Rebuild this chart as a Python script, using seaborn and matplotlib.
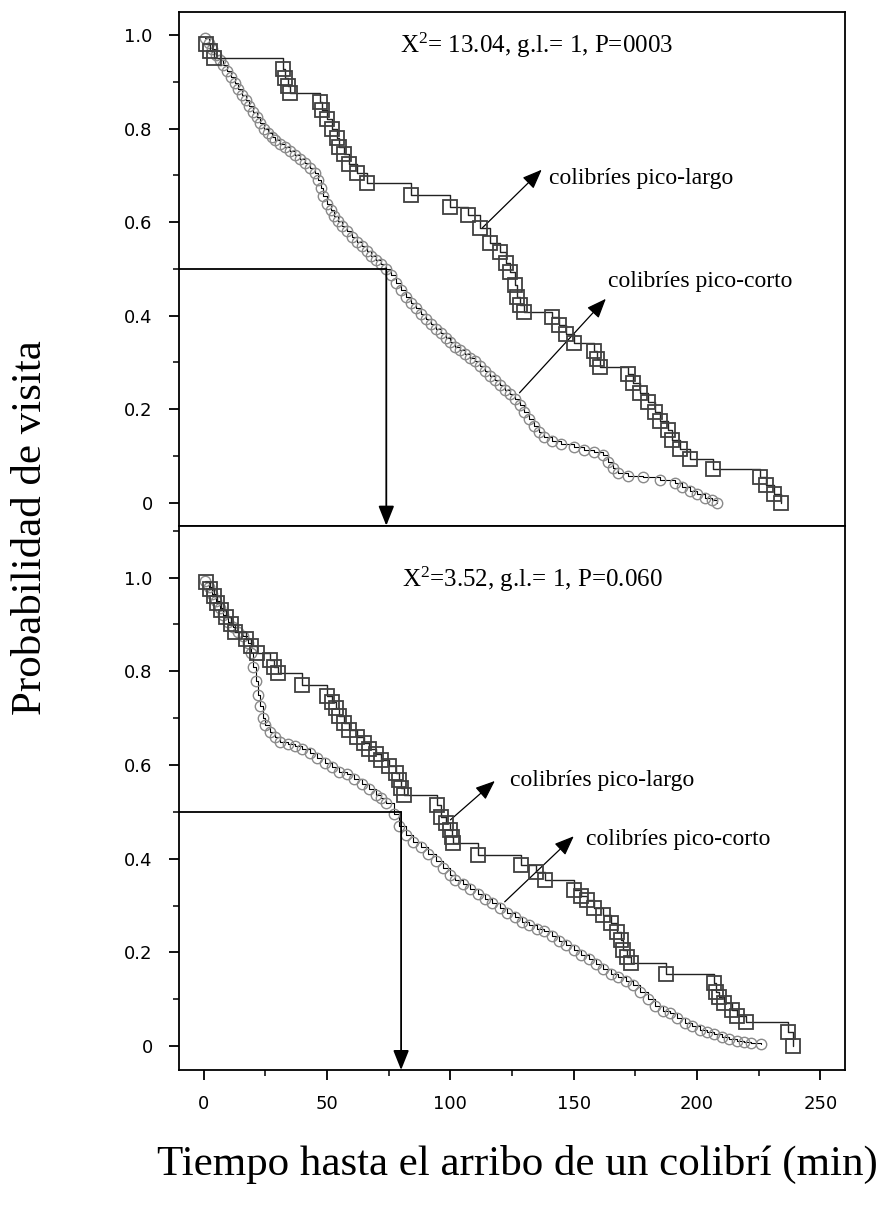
import matplotlib
matplotlib.use("Agg")
import matplotlib.pyplot as plt
import numpy as np
import pandas as pd
import seaborn as sns
from matplotlib.ticker import MultipleLocator, FuncFormatter

sns.set_theme(style="white")
plt.rcParams["font.family"] = ["DejaVu Sans"]
plt.rcParams["text.color"] = "black"
plt.rcParams["mathtext.fontset"] = "custom"
plt.rcParams["mathtext.rm"] = "Liberation Serif"
plt.rcParams["mathtext.default"] = "regular"

# ---------------- data (Kaplan-Meier estimates) ----------------
# Panel A (top)
a_long_t = [1, 2.5, 4, 32, 33, 34, 35, 47, 48, 50, 52, 54, 55, 57, 59, 62, 66, 84,
            100, 107, 112, 116, 120, 122.5, 124, 126, 127, 128, 130, 141, 144, 147, 150,
            158, 159.5, 160.5, 172, 174, 177, 180, 183, 185, 188, 190, 193, 197, 206.5,
            225.5, 228, 231, 234]
a_long_s = [0.98, 0.965, 0.95, 0.928, 0.907, 0.89, 0.876, 0.857, 0.84, 0.82, 0.80, 0.78,
            0.76, 0.745, 0.725, 0.705, 0.684, 0.658, 0.632, 0.615, 0.588, 0.556, 0.536,
            0.513, 0.494, 0.466, 0.44, 0.423, 0.408, 0.397, 0.38, 0.36, 0.342, 0.325,
            0.308, 0.29, 0.275, 0.255, 0.235, 0.215, 0.195, 0.175, 0.155, 0.135, 0.115,
            0.094, 0.073, 0.055, 0.037, 0.019, 0.0]
a_short_t = [0.5, 2, 3.5, 5, 6.5, 8, 9.5, 11, 12.5, 14, 15.5, 17, 18.5, 20, 21.5, 23, 24.5,
             26, 27.5, 29, 31, 33, 35, 37, 39, 41, 43, 45, 46.5, 47.5, 48.5, 50, 51.5, 53,
             54.5, 56, 58, 60, 62, 64, 66, 68, 70, 72, 74, 76, 78, 80, 82, 84, 86, 88, 90,
             92, 94, 96, 98, 100, 102, 104, 106, 108, 110, 112, 114, 116, 118, 120, 122,
             124, 126, 128, 130, 132, 134, 136, 138, 141, 145, 150, 154, 158, 162, 164,
             166, 168, 172, 178, 185, 191, 194, 197, 200, 203, 206, 208]
a_short_s = [0.993, 0.982, 0.97, 0.958, 0.947, 0.935, 0.922, 0.91, 0.897, 0.885, 0.872,
             0.86, 0.848, 0.836, 0.824, 0.812, 0.80, 0.79, 0.782, 0.776, 0.768, 0.76, 0.752,
             0.744, 0.735, 0.726, 0.716, 0.705, 0.69, 0.672, 0.655, 0.638, 0.625, 0.614,
             0.603, 0.592, 0.58, 0.568, 0.558, 0.548, 0.538, 0.528, 0.518, 0.51, 0.5, 0.486,
             0.47, 0.455, 0.44, 0.428, 0.416, 0.404, 0.393, 0.382, 0.372, 0.362, 0.352,
             0.343, 0.334, 0.326, 0.318, 0.31, 0.302, 0.292, 0.282, 0.272, 0.262, 0.252,
             0.242, 0.232, 0.222, 0.21, 0.195, 0.18, 0.165, 0.152, 0.14, 0.132, 0.125,
             0.119, 0.113, 0.109, 0.103, 0.088, 0.075, 0.064, 0.058, 0.054, 0.049, 0.043,
             0.034, 0.026, 0.018, 0.011, 0.005, 0.0]

# Panel B (bottom)
b_long_t = [1, 2.5, 4, 5.5, 7, 9, 11, 12.5, 17, 19, 21.5, 27, 28.5, 30, 40, 50, 52, 53.5,
            55, 57, 59, 62, 65, 67, 70, 72, 75, 78, 79, 80, 81, 94.5, 96, 98, 100, 100.5,
            101, 111, 128.5, 134.5, 138.5, 150, 153, 155.5, 158, 162, 165, 167.5, 169,
            170, 171.5, 173, 187.5, 207, 207.5, 209, 211, 214, 216, 220, 237, 239]
b_long_s = [0.99, 0.975, 0.96, 0.945, 0.93, 0.915, 0.90, 0.885, 0.87, 0.855, 0.84, 0.825,
            0.81, 0.797, 0.77, 0.747, 0.735, 0.722, 0.705, 0.69, 0.675, 0.66, 0.647,
            0.635, 0.624, 0.611, 0.597, 0.583, 0.567, 0.551, 0.536, 0.515, 0.49, 0.476,
            0.462, 0.447, 0.434, 0.408, 0.387, 0.371, 0.355, 0.333, 0.32, 0.312, 0.295,
            0.28, 0.263, 0.244, 0.226, 0.205, 0.19, 0.177, 0.154, 0.135, 0.115, 0.105,
            0.092, 0.077, 0.065, 0.051, 0.03, 0.0]
b_short_t = [0.5, 2, 3.5, 5, 6.5, 8, 10, 12, 14, 16, 18, 19, 20, 21, 22, 23, 24, 25, 27,
             29, 31, 34, 37, 40, 43, 46, 49, 52, 55, 58, 61, 64, 67, 70, 72, 74, 77, 79,
             82, 85, 88, 91, 94, 97, 100, 102, 105, 108, 111, 114, 117, 120, 123, 126,
             129, 132, 135, 138, 141, 144, 147, 150, 153, 156, 159, 162, 165, 168, 171,
             174, 177, 180, 183, 186, 189, 192, 195, 198, 201, 204, 207, 210, 213, 216,
             219, 222, 226]
b_short_s = [0.993, 0.98, 0.965, 0.95, 0.935, 0.92, 0.905, 0.895, 0.885, 0.875, 0.86, 0.84,
             0.81, 0.78, 0.75, 0.725, 0.70, 0.685, 0.67, 0.66, 0.65, 0.645, 0.64, 0.635,
             0.625, 0.615, 0.605, 0.595, 0.585, 0.58, 0.57, 0.56, 0.548, 0.537, 0.53, 0.52,
             0.495, 0.47, 0.45, 0.435, 0.425, 0.41, 0.395, 0.38, 0.365, 0.355, 0.345,
             0.335, 0.325, 0.315, 0.305, 0.295, 0.285, 0.275, 0.265, 0.258, 0.25, 0.245,
             0.235, 0.225, 0.215, 0.205, 0.195, 0.185, 0.175, 0.165, 0.155, 0.148, 0.14,
             0.13, 0.115, 0.10, 0.085, 0.075, 0.07, 0.06, 0.05, 0.042, 0.035, 0.03, 0.025,
             0.02, 0.015, 0.01, 0.008, 0.006, 0.004]

median_times = [74, 80]
stats_labels = ["X$^2$= 13.04, g.l.= 1, P=0003", "X$^2$=3.52, g.l.= 1, P=0.060"]
label_long = "colibríes pico-largo"
label_short = "colibríes pico-corto"
x_ticks = [0, 50, 100, 150, 200, 250]
y_ticks = [0, 0.2, 0.4, 0.6, 0.8, 1.0]

SERIF = ["Liberation Serif", "DejaVu Serif"]

fig = plt.figure(figsize=(8.91, 12.07), dpi=100)
ax_top = fig.add_axes([0.201, 0.5645, 0.7475, 0.4255])
ax_bot = fig.add_axes([0.201, 0.1135, 0.7475, 0.451])


def draw_panel(ax, ts, ss, tl, sl, ylim):
    dshort = pd.DataFrame({"t": ts, "s": ss})
    dlong = pd.DataFrame({"t": tl, "s": sl})
    sns.lineplot(data=dshort, x="t", y="s", ax=ax, estimator=None, sort=False,
                 drawstyle="steps-post", color="black", lw=0.8,
                 marker="o", markersize=7.5, markerfacecolor="none",
                 markeredgecolor="#8a8a8a", markeredgewidth=1.0, zorder=3)
    sns.lineplot(data=dlong, x="t", y="s", ax=ax, estimator=None, sort=False,
                 drawstyle="steps-post", color="#222222", lw=1.0,
                 marker="s", markersize=9.5, markerfacecolor="none",
                 markeredgecolor="#404040", markeredgewidth=1.3, zorder=4)
    ax.set_xlim(-10, 260)
    ax.set_ylim(*ylim)
    ax.set_xlabel("")
    ax.set_ylabel("")
    for sp in ax.spines.values():
        sp.set_visible(True)
        sp.set_color("black")
        sp.set_linewidth(1.3)
    ax.yaxis.set_major_locator(plt.FixedLocator(y_ticks))
    ax.yaxis.set_minor_locator(MultipleLocator(0.1))
    ax.yaxis.set_major_formatter(FuncFormatter(lambda v, p: "0" if abs(v) < 1e-9 else f"{v:.1f}"))
    ax.tick_params(axis="y", which="major", direction="out", length=7, width=1.3,
                   labelsize=13, pad=12, left=True, colors="black")
    ax.tick_params(axis="y", which="minor", direction="out", length=4, width=1.3, left=True)
    ax.grid(False)


draw_panel(ax_top, a_short_t, a_short_s, a_long_t, a_long_s, (-0.049, 1.049))
draw_panel(ax_bot, b_short_t, b_short_s, b_long_t, b_long_s, (-0.051, 1.111))

# x axis: only on bottom panel
ax_top.set_xticks([])
ax_top.tick_params(axis="x", which="both", bottom=False, labelbottom=False)
ax_bot.xaxis.set_major_locator(plt.FixedLocator(x_ticks))
ax_bot.xaxis.set_minor_locator(MultipleLocator(25))
ax_bot.tick_params(axis="x", which="major", direction="out", length=7, width=1.3,
                   labelsize=13, pad=11, bottom=True, colors="black")
ax_bot.tick_params(axis="x", which="minor", direction="out", length=4, width=1.3, bottom=True)

arrow_kw = dict(arrowstyle="-|>,head_length=1.0,head_width=0.4", color="black",
                lw=0.9, shrinkA=0, shrinkB=0)

# statistics
ax_top.text(135, 0.978, stats_labels[0], ha="center", va="center", family=SERIF, size=18,
            color="black")
ax_bot.text(133, 0.996, stats_labels[1], ha="center", va="center", family=SERIF, size=18,
            color="black")

# labelled arrows, top
ax_top.annotate("", xy=(137, 0.712), xytext=(113, 0.588), arrowprops=arrow_kw)
ax_top.text(140, 0.694, label_long, ha="left", va="center", family=SERIF, size=17,
            color="black")
ax_top.annotate("", xy=(163, 0.436), xytext=(128, 0.235), arrowprops=arrow_kw)
ax_top.text(164, 0.472, label_short, ha="left", va="center", family=SERIF, size=17,
            color="black")

# labelled arrows, bottom
ax_bot.annotate("", xy=(118, 0.566), xytext=(100, 0.483), arrowprops=arrow_kw)
ax_bot.text(124, 0.566, label_long, ha="left", va="center", family=SERIF, size=17,
            color="black")
ax_bot.annotate("", xy=(150, 0.448), xytext=(122, 0.308), arrowprops=arrow_kw)
ax_bot.text(155, 0.44, label_short, ha="left", va="center", family=SERIF, size=17,
            color="black")

# median lines
for ax, m, ylim in [(ax_top, median_times[0], (-0.049, 1.049)),
                    (ax_bot, median_times[1], (-0.051, 1.111))]:
    ax.plot([-10, m], [0.5, 0.5], color="black", lw=1.3, zorder=5)
    ax.annotate("", xy=(m, ylim[0]), xytext=(m, 0.5),
                arrowprops=dict(arrowstyle="-|>,head_length=1.0,head_width=0.4",
                                color="black", lw=1.3, shrinkA=0, shrinkB=0),
                annotation_clip=False, zorder=6)

fig.text(0.034, 0.563, "Probabilidad de visita", rotation=90, ha="center", va="center",
         family=SERIF, size=31, color="black")
fig.text(0.581, 0.035, "Tiempo hasta el arribo de un colibrí (min)", ha="center",
         va="center", family=SERIF, size=31, color="black")

fig.savefig("out.png", dpi=100)
